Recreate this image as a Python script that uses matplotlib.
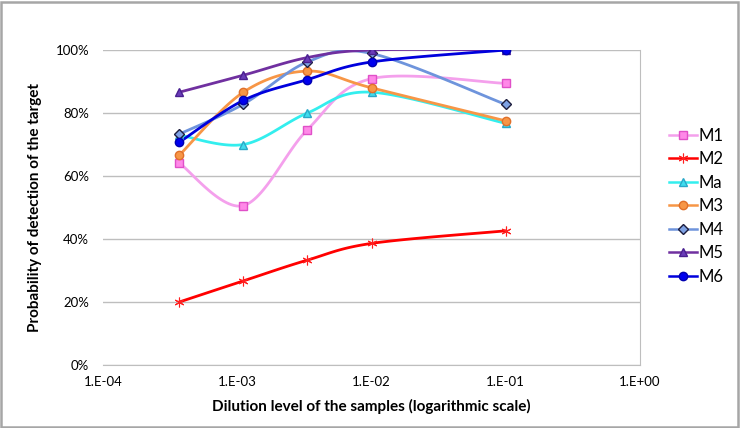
# detection probability vs dilution level, smoothed lines like the Excel chart

import matplotlib.pyplot as plt
import numpy as np
from matplotlib.patches import Rectangle

# dilution levels (1/3 steps below 1e-2, then 1e-1)
dilution = [3.7e-4, 1.11e-3, 3.33e-3, 1.0e-2, 1.0e-1]

# probability of detection
m1 = [0.641, 0.506, 0.747, 0.909, 0.894]
m2 = [0.200, 0.267, 0.333, 0.386, 0.426]
ma = [0.730, 0.700, 0.800, 0.866, 0.767]
m3 = [0.666, 0.866, 0.933, 0.880, 0.775]
m4 = [0.733, 0.828, 0.962, 0.989, 0.827]
m5 = [0.866, 0.920, 0.976, 1.000, 1.000]
m6 = [0.707, 0.840, 0.906, 0.962, 1.000]

xtick_vals = [1e-4, 1e-3, 1e-2, 1e-1, 1e0]
xtick_labels = ["1.E-04", "1.E-03", "1.E-02", "1.E-01", "1.E+00"]
ytick_vals = [0, 0.2, 0.4, 0.6, 0.8, 1.0]
ytick_labels = ["0%", "20%", "40%", "60%", "80%", "100%"]

# ----------------------------------------------------------------
# Excel style smoothing: bezier spline done in screen-ish units
PX_DEC = 134.0   # pixels per decade on x
PX_Y = 315.0     # pixels per 100% on y

def smooth(xs, ys, n=30):
    u = np.log10(xs) * PX_DEC
    v = np.asarray(ys) * PX_Y
    pts = np.column_stack([u, v])
    out = [pts[0]]
    for i in range(len(pts) - 1):
        p0 = pts[i - 1] if i > 0 else pts[i]
        p1 = pts[i]
        p2 = pts[i + 1]
        p3 = pts[i + 2] if i + 2 < len(pts) else pts[i + 1]
        c1 = p1 + (p2 - p0) / 6.0
        c2 = p2 - (p3 - p1) / 6.0
        t = np.linspace(0, 1, n)[1:, None]
        seg = ((1 - t)**3 * p1 + 3 * (1 - t)**2 * t * c1
               + 3 * (1 - t) * t**2 * c2 + t**3 * p2)
        out.extend(seg)
    out = np.array(out)
    return 10**(out[:, 0] / PX_DEC), out[:, 1] / PX_Y

series = [
    # name, values, line colour, marker, face, edge, size, edge width
    ("M1", m1, "#F4A0EC", "s", "#FF88E8", "#E050C8", 5.8, 1.0),
    ("M2", m2, "#FF0000", (6, 2, 0), "#FF0000", "#FF2020", 7, 0.8),
    ("Ma", ma, "#33EEEE", "^", "#40DDEE", "#2AA8C8", 6, 1.0),
    ("M3", m3, "#F79646", "o", "#F79646", "#E0702A", 6, 1.0),
    ("M4", m4, "#6E94DC", "D", "#7EA2E4", "#1C1C3C", 4.8, 1.0),
    ("M5", m5, "#7030A0", "^", "#6A3CB8", "#4A2090", 6, 1.0),
    ("M6", m6, "#0000DD", "o", "#0000EE", "#0000B0", 6, 1.0),
]

plt.rcParams['font.family'] = ['Lato', 'DejaVu Sans']

fig = plt.figure(figsize=(7.4, 4.28), dpi=100)
ax = fig.add_axes([103/740, 1 - 365/428, (640 - 103)/740, (365 - 50)/428])

for name, vals, lc, mk, fc, ec, ms, mw in series:
    sx, sy = smooth(dilution, vals)
    ax.plot(sx, sy, color=lc, lw=2, zorder=2)
    ax.plot(dilution, vals, ls="none", marker=mk, ms=ms, mfc=fc, mec=ec,
            mew=mw, zorder=3)
    # legend proxy
    ax.plot([], [], color=lc, lw=1.8, marker=mk, ms=ms, mfc=fc, mec=ec,
            mew=mw, label=name)

ax.set_xscale("log")
ax.set_xlim(1e-4, 1e0)
ax.set_ylim(0, 1.0)
ax.set_xticks(xtick_vals)
ax.set_xticklabels(xtick_labels, fontsize=9.5)
ax.minorticks_off()
ax.set_yticks(ytick_vals)
ax.set_yticklabels(ytick_labels, fontsize=9.5)
ax.tick_params(length=0, pad=8)
ax.tick_params(axis="y", pad=10)

ax.grid(axis="y", color="#BEBEBE", lw=1)
ax.set_axisbelow(True)
for s in ["top", "left"]:
    ax.spines[s].set_visible(False)
ax.spines["right"].set_color("#BEBEBE")
ax.spines["bottom"].set_color("#BEBEBE")

ax.set_xlabel("Dilution level of the samples (logarithmic scale)",
              fontsize=11, fontweight="bold", labelpad=8)
ax.set_ylabel("Probability of detection of the target",
              fontsize=11, fontweight="bold", labelpad=10)

leg = fig.legend(loc="upper left", bbox_to_anchor=(662/740, 1 - 121/428),
                 frameon=False, fontsize=12, handlelength=1.7,
                 handletextpad=0.1, labelspacing=0.45, borderaxespad=0)

# chart area border
fig.patches.append(Rectangle((0.002, 0.003), 0.995, 0.993,
                             transform=fig.transFigure, fill=False,
                             ec="#A6A6A6", lw=1.8))

fig.savefig("out.png", dpi=100)
